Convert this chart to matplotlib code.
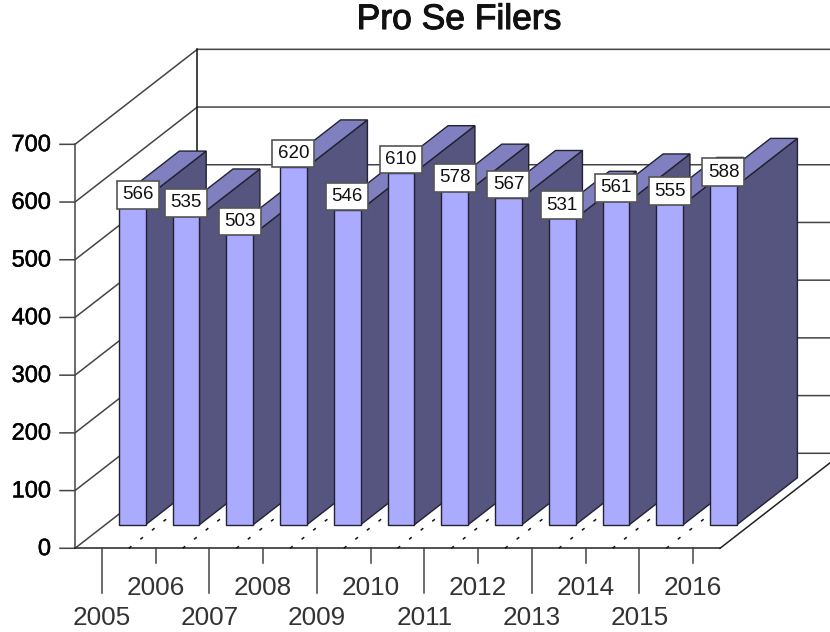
import matplotlib
matplotlib.use("Agg")
import matplotlib.pyplot as plt
import matplotlib.patheffects as pe

plt.rcParams["font.family"] = ["Liberation Sans", "DejaVu Sans"]

years = ["2005", "2006", "2007", "2008", "2009", "2010", "2011", "2012", "2013", "2014", "2015", "2016"]
filers = [566, 535, 503, 620, 546, 610, 578, 567, 531, 561, 555, 588]
yticks = [0, 100, 200, 300, 400, 500, 600, 700]

FRONT = "#aaaaff"
TOP = "#8080c0"
SIDE = "#555580"
EDGE = "#222233"
LINE = "#444444"

# scale of the picture: one slot = 53.75 px, one unit of value = 0.5771 px
SLOT_PX = 53.75
UNIT_PX = 0.5771
DEPTH_X = 122.3 / SLOT_PX
DEPTH_Y = 95 / UNIT_PX
BAR_W = 0.5
BAR_D0 = 0.248
BAR_D1 = 0.743


def proj(x, v, d=0.0):
    # oblique projection, d=0 front plane, d=1 back wall
    return x + d * DEPTH_X, v + d * DEPTH_Y


def poly(pts, color, z):
    xs = [p[0] for p in pts]
    ys = [p[1] for p in pts]
    ax.fill(xs, ys, facecolor=color, edgecolor=EDGE, linewidth=1, zorder=z, joinstyle="miter")


fig = plt.figure(figsize=(8.3, 6.32), dpi=100)
ax = fig.add_axes([0, 0, 1, 1])
ax.set_xlim(-75 / SLOT_PX, (830 - 75) / SLOT_PX)
ax.set_ylim((548.3 - 632) / UNIT_PX, 548.3 / UNIT_PX)
ax.axis("off")

n = len(years)
far_right = ax.get_xlim()[1]
lw = 1.1

# walls and gridlines
for v in yticks:
    xb, yb = proj(0, v, 1)
    ax.plot([-15 / SLOT_PX, 0, xb, far_right], [v, v, yb, yb], color=LINE, lw=lw, zorder=1)
    t = ax.text(-24 / SLOT_PX, v - 0.8 / UNIT_PX, str(v), ha="right", va="center", fontsize=17, color="#000000")
    t.set_path_effects([pe.withStroke(linewidth=0.35, foreground="#000000")])
ax.plot([0, 0], [0, yticks[-1]], color=LINE, lw=lw, zorder=1)
xb, yb = proj(0, 0, 1)
ax.plot([xb, xb], [yb, proj(0, yticks[-1], 1)[1]], color="#111111", lw=lw, zorder=1)

# floor
ax.plot([0, n], [0, 0], color="#222222", lw=lw, zorder=1)
xr, yr = proj(n, 0, 1)
ax.plot([n, xr], [0, yr], color="#222222", lw=lw, zorder=1)
for k in range(1, n):
    xr, yr = proj(k, 0, 1)
    ax.plot([k, xr], [0, yr], color="#111111", lw=1.1, zorder=1.5, linestyle=(0, (2.2, 7.4)))

# x ticks, alternate years dropped to a second row
for i, year in enumerate(years):
    low = i % 2 == 0
    tick_end = -45 / UNIT_PX if low else -15 / UNIT_PX
    ax.plot([i + 0.5, i + 0.5], [0, tick_end], color=LINE, lw=lw, zorder=1)
    label_y = -70 / UNIT_PX if low else -39.5 / UNIT_PX
    ax.text(i + 0.5, label_y, year, ha="center", va="center", fontsize=18.8, color="#333333")

# bars, left to right so each front covers the previous side
for i, val in enumerate(filers):
    x0 = i + 0.5 - BAR_W / 2
    x1 = i + 0.5 + BAR_W / 2
    z = 2 + i
    poly([proj(x1, 0, BAR_D0), proj(x1, 0, BAR_D1), proj(x1, val, BAR_D1), proj(x1, val, BAR_D0)], SIDE, z)
    poly([proj(x0, val, BAR_D0), proj(x1, val, BAR_D0), proj(x1, val, BAR_D1), proj(x0, val, BAR_D1)], TOP, z)
    poly([proj(x0, 0, BAR_D0), proj(x1, 0, BAR_D0), proj(x1, val, BAR_D0), proj(x0, val, BAR_D0)], FRONT, z)

# value labels sit on the bar tops; the first one is pushed aside
for i, val in enumerate(filers):
    x, y = proj(i + 0.5, val, BAR_D0)
    if i == 0:
        x += 5.5 / SLOT_PX
        y -= 10 / UNIT_PX
    ax.text(x, y + 13.2 / UNIT_PX, str(val), ha="center", va="center", fontsize=13.5, color="#111111",
            zorder=30,
            bbox=dict(boxstyle="square,pad=0.28", facecolor="white", edgecolor="#555555", linewidth=1.2))

title = ax.text((459 - 75) / SLOT_PX, (548.3 - 19.5) / UNIT_PX, "Pro Se Filers", ha="center", va="center",
                fontsize=25.5, color="#111111")
title.set_path_effects([pe.withStroke(linewidth=0.8, foreground="#111111")])

fig.savefig("out.png", dpi=100)
